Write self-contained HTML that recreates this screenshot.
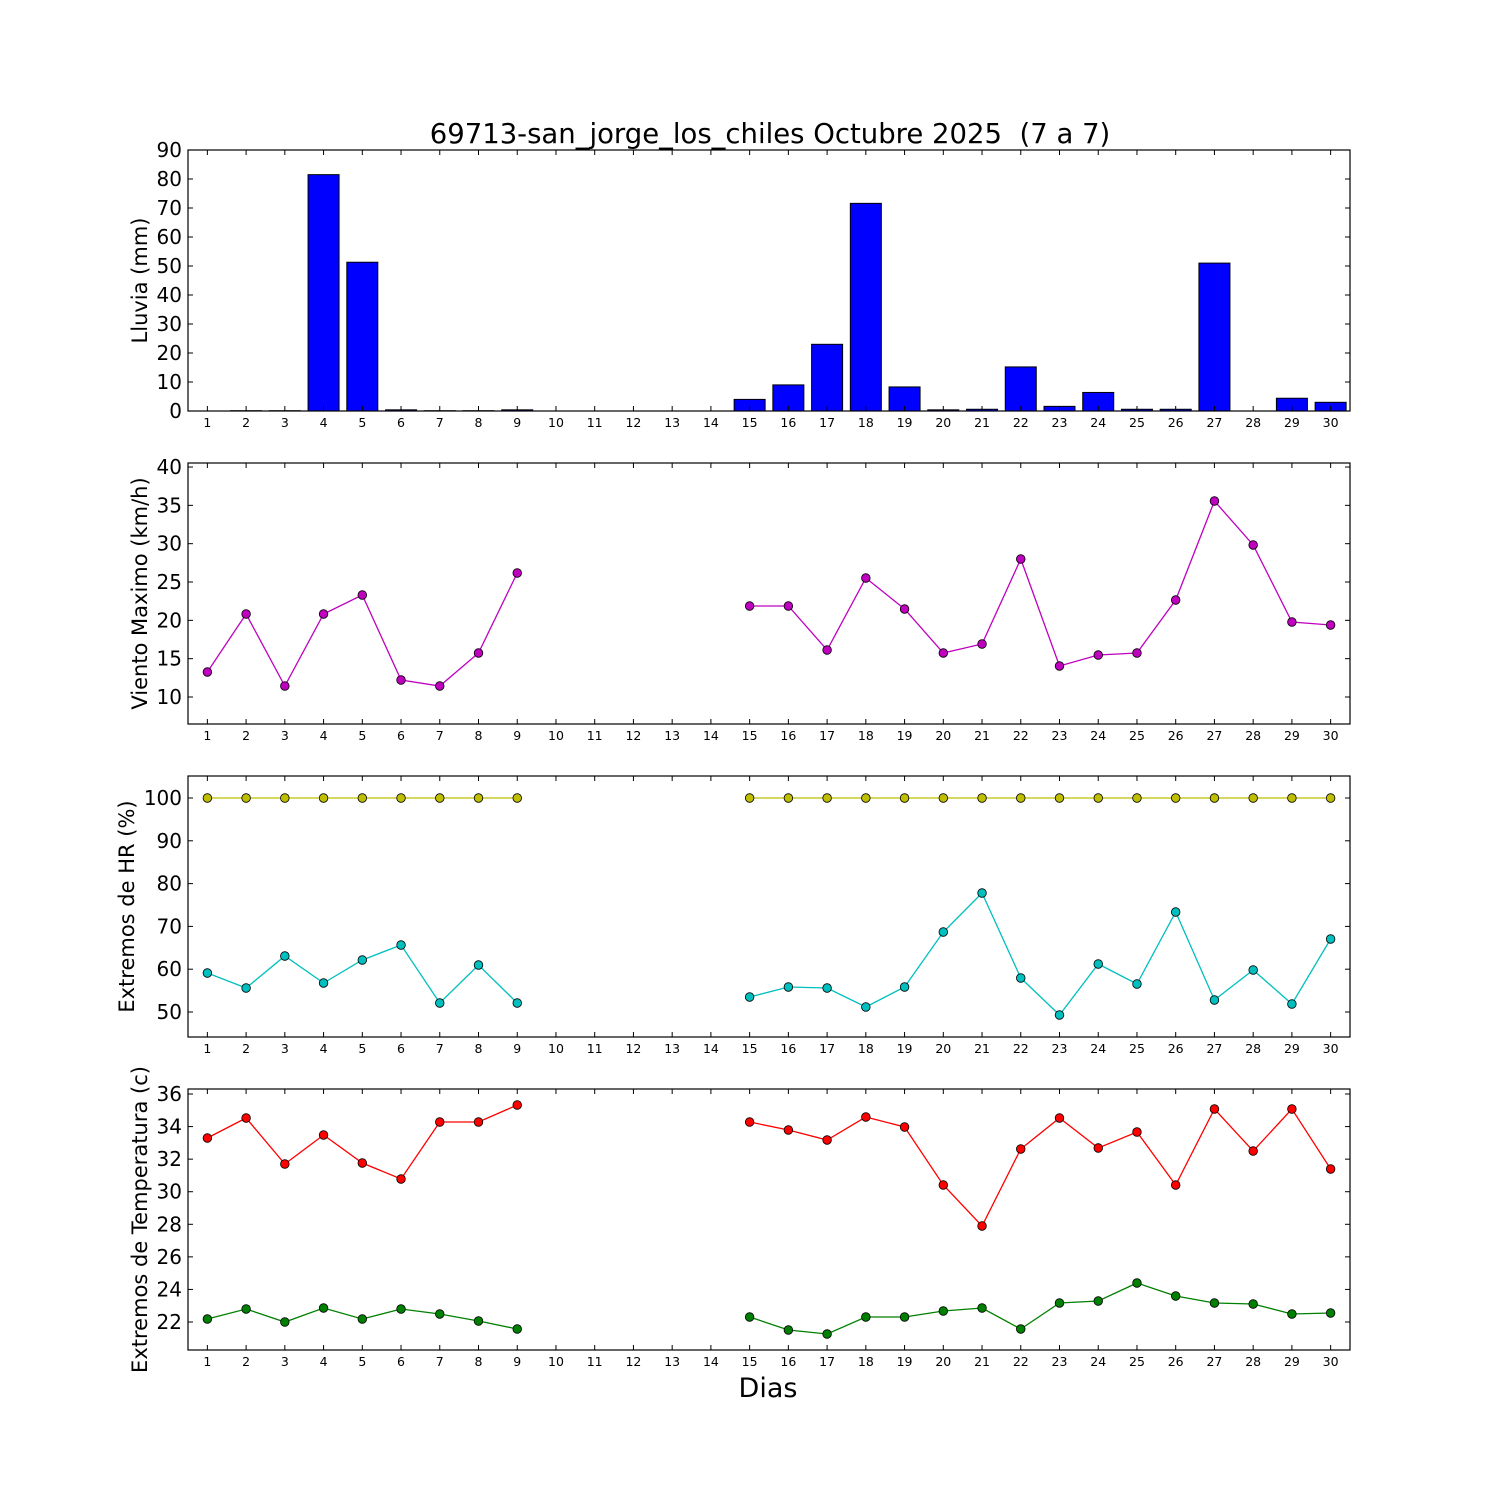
<!DOCTYPE html>
<html><head><meta charset="utf-8"><style>
html,body{margin:0;padding:0;background:#fff}
svg{display:block;font-family:"DejaVu Sans","Liberation Sans",sans-serif}
</style></head><body>
<svg id="s" width="1500" height="1500" xmlns="http://www.w3.org/2000/svg"></svg>
<script>
const s=document.getElementById('s');let h='';
const X=d=>188+(d-0.5)*1162/30;
const L=188,R=1350;
const panels=[[150,411],[463,724],[776,1037],[1089,1350]];
h+='<text x="770" y="143" font-size="27.5" text-anchor="middle" style="white-space:pre">69713-san_jorge_los_chiles Octubre 2025  (7 a 7)</text>';
const bars={4:81.5,5:51.3,6:0.4,9:0.4,15:4,16:9,17:23,18:71.6,19:8.3,20:0.4,21:0.6,22:15.2,23:1.6,24:6.4,25:0.6,26:0.6,27:51,29:4.4,30:3,2:0.1,3:0.1,7:0.1,8:0.1};
for(const d in bars){const v=bars[d];const y=411-v*2.9;h+=`<rect x="${X(+d)-15.5}" y="${y}" width="31" height="${411-y}" fill="#0000ff" stroke="#000" stroke-width="1"/>`;}
function yt(p,vals,py){for(let i=0;i<vals.length;i++){const y=py[i];h+=`<line x1="${L}" x2="${L+5}" y1="${y}" y2="${y}" stroke="#000"/><line x1="${R-5}" x2="${R}" y1="${y}" y2="${y}" stroke="#000"/><text x="${L-6}" y="${y+7}" font-size="20" text-anchor="end">${vals[i]}</text>`;}}
yt(0,[0,10,20,30,40,50,60,70,80,90],[0,1,2,3,4,5,6,7,8,9].map(i=>411-i*29));
yt(1,[10,15,20,25,30,35,40],[0,1,2,3,4,5,6].map(i=>697-i*38.33));
yt(2,[50,60,70,80,90,100],[0,1,2,3,4,5].map(i=>1012-i*42.8));
yt(3,[22,24,26,28,30,32,34,36],[0,1,2,3,4,5,6,7].map(i=>1322-i*32.57));
const ylabs=[['Lluvia (mm)',147],['Viento Maximo (km/h)',147],['Extremos de HR (%)',134],['Extremos de Temperatura (c)',147]];
panels.forEach(([t,b],i)=>{
 h+=`<rect x="${L}" y="${t}" width="${R-L}" height="${b-t}" fill="none" stroke="#000" stroke-width="1.2"/>`;
 for(let d=1;d<=30;d++){const x=X(d);h+=`<line x1="${x}" x2="${x}" y1="${b}" y2="${b-5}" stroke="#000"/><line x1="${x}" x2="${x}" y1="${t}" y2="${t+5}" stroke="#000"/><text x="${x}" y="${b+16}" font-size="12.5" text-anchor="middle">${d}</text>`;}
 const cy=(t+b)/2;h+=`<text transform="translate(${ylabs[i][1]},${cy}) rotate(-90)" font-size="21" text-anchor="middle">${ylabs[i][0]}</text>`;
});
function series(data,col){const segs=[[],[]];for(const d in data){(+d<=9?segs[0]:segs[1]).push([X(+d),data[d]]);}
 segs.forEach(sg=>{h+=`<polyline fill="none" stroke="${col}" stroke-width="1.3" points="${sg.map(p=>p.join(',')).join(' ')}"/>`;});
 segs.forEach(sg=>sg.forEach(p=>{h+=`<circle cx="${p[0]}" cy="${p[1]}" r="4.3" fill="${col}" stroke="#000" stroke-width="0.8"/>`;}));}
const days=[1,2,3,4,5,6,7,8,9,15,16,17,18,19,20,21,22,23,24,25,26,27,28,29,30];
const mk=a=>{const o={};days.forEach((d,i)=>o[d]=a[i]);return o;};
series(mk([672,614,686,614,595,680,686,653,573,606,606,650,578,609,653,644,559,666,655,653,600,501,545,622,625]),'#bf00bf');
series(mk(days.map(()=>798)),'#bfbf00');
series(mk([973,988,956,983,960,945,1003,965,1003,997,987,988,1007,987,932,893,978,1015,964,984,912,1000,970,1004,939]),'#00bfbf');
series(mk([1138,1118,1164,1135,1163,1179,1122,1122,1105,1122,1130,1140,1117,1127,1185,1226,1149,1118,1148,1132,1185,1109,1151,1109,1169]),'#ff0000');
series(mk([1319,1309,1322,1308,1319,1309,1314,1321,1329,1317,1330,1334,1317,1317,1311,1308,1329,1303,1301,1283,1296,1303,1304,1314,1313]),'#008000');
h+='<text x="768" y="1397" font-size="27" text-anchor="middle">Dias</text>';
s.innerHTML=h;
</script>
</body></html>
